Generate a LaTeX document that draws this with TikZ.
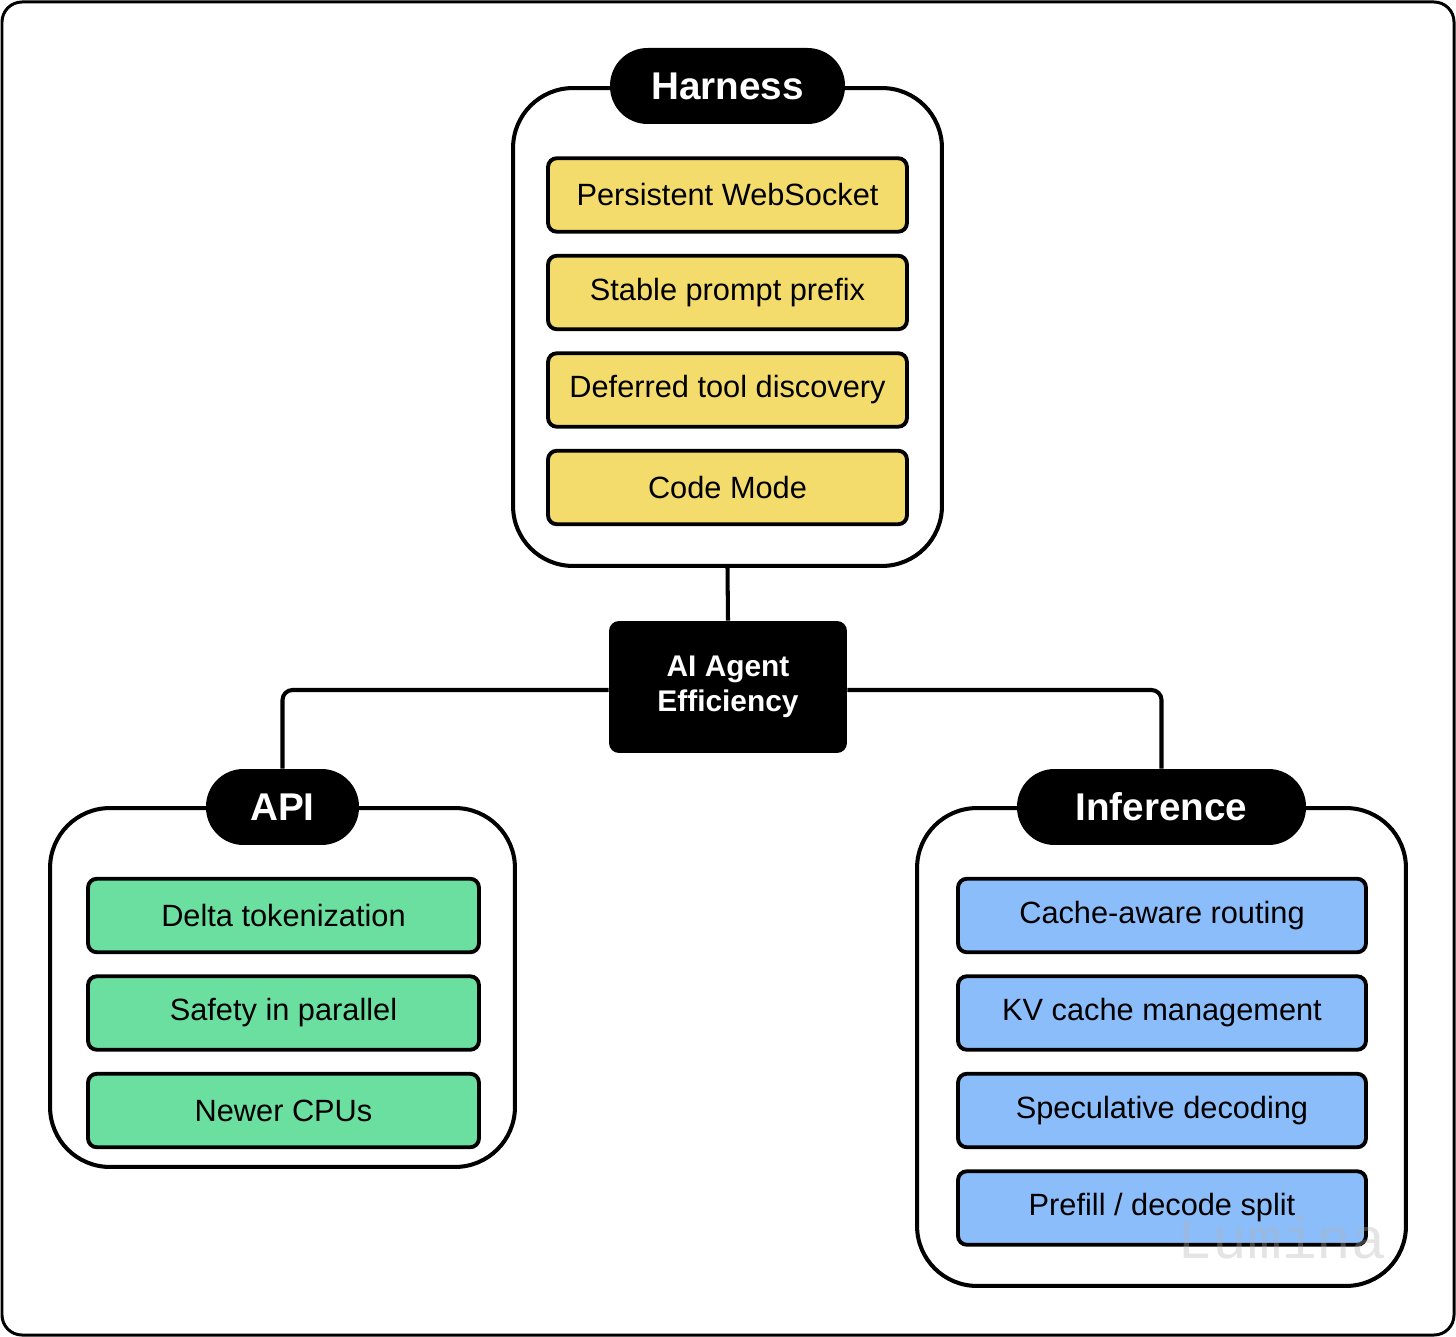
\documentclass[tikz,border=0pt]{standalone}
\usepackage{fontspec}
\setmainfont{Liberation Sans}
\setmonofont{Liberation Mono}
\usetikzlibrary{positioning}
\definecolor{harnessyellow}{HTML}{F3DC6B}
\definecolor{apigreen}{HTML}{6BDF9F}
\definecolor{infblue}{HTML}{8BBDFB}
\tikzset{
  item/.style={draw=black,line width=2.2pt,rounded corners=5pt,minimum height=1.47cm,inner sep=0pt,font=\fontsize{17.5}{20}\selectfont},
  group/.style={draw=black,line width=2.3pt,rounded corners=1.2cm,inner sep=0pt},
  pill/.style={fill=black,text=white,rounded corners=0.75cm,minimum height=1.52cm,inner sep=0pt,font=\fontsize{22}{26}\selectfont\bfseries}
}

\begin{document}
\begin{tikzpicture}[x=0.02cm,y=-0.02cm,
    conn/.style={draw=black,line width=2.3pt,rounded corners=0.2cm},
    core/.style={fill=black,text=white,rounded corners=0.2cm,align=center,inner sep=0pt,font=\fontsize{17}{20}\selectfont\bfseries}]
                \useasboundingbox (0,0) rectangle (1456,1337);
                \draw[line width=1.7pt,rounded corners=0.4cm] (2,2) rectangle (1454,1335);
                % the three groups
                \node [group,minimum width=8.58cm,minimum height=9.56cm] (harnessbox) at (727.5,327) {};
                \node [group,minimum width=9.3cm,minimum height=7.18cm] (apibox) at (282.5,987.5) {};
                \node [group,minimum width=9.78cm,minimum height=9.56cm] (infbox) at (1161.5,1047) {};
                \node [pill,minimum width=4.7cm] (harness) at (727.5,86) {Harness};
                \node [pill,minimum width=3.06cm] (api) at (282.5,807) {API};
                \node [pill,minimum width=5.78cm] (inference) at (1161.5,807) {Inference};
                \foreach \txt [count=\i] in {Persistent WebSocket,Stable prompt prefix,Deferred tool discovery,Code Mode}
                    \node [item,fill=harnessyellow,minimum width=7.18cm] (h\i) at (727.5,{195+97.5*(\i-1)}) {\txt};
                \foreach \txt [count=\i] in {Delta tokenization,Safety in parallel,Newer CPUs}
                    \node [item,fill=apigreen,minimum width=7.82cm] (a\i) at (283.5,{915.5+97.5*(\i-1)}) {\txt};
                \foreach \txt [count=\i] in {Cache-aware routing,KV cache management,Speculative decoding,Prefill / decode split}
                    \node [item,fill=infblue,minimum width=8.16cm] (k\i) at (1162,{915.5+97.5*(\i-1)}) {\txt};
                % centre and links
                \node [core,minimum width=4.76cm,minimum height=2.64cm] (agent) at (728,687) {AI Agent\\Efficiency};
                \draw [conn] (harnessbox.south) -- (agent.north);
                \draw [conn] ([yshift=-0.06cm]agent.west) -| (api.north);
                \draw [conn] ([yshift=-0.06cm]agent.east) -| (inference.north);
                \node [text=gray!60,text opacity=0.35,font=\fontsize{33}{36}\selectfont\ttfamily] (mark) at (1282,1238) {Lumina};
\end{tikzpicture}
\end{document}
